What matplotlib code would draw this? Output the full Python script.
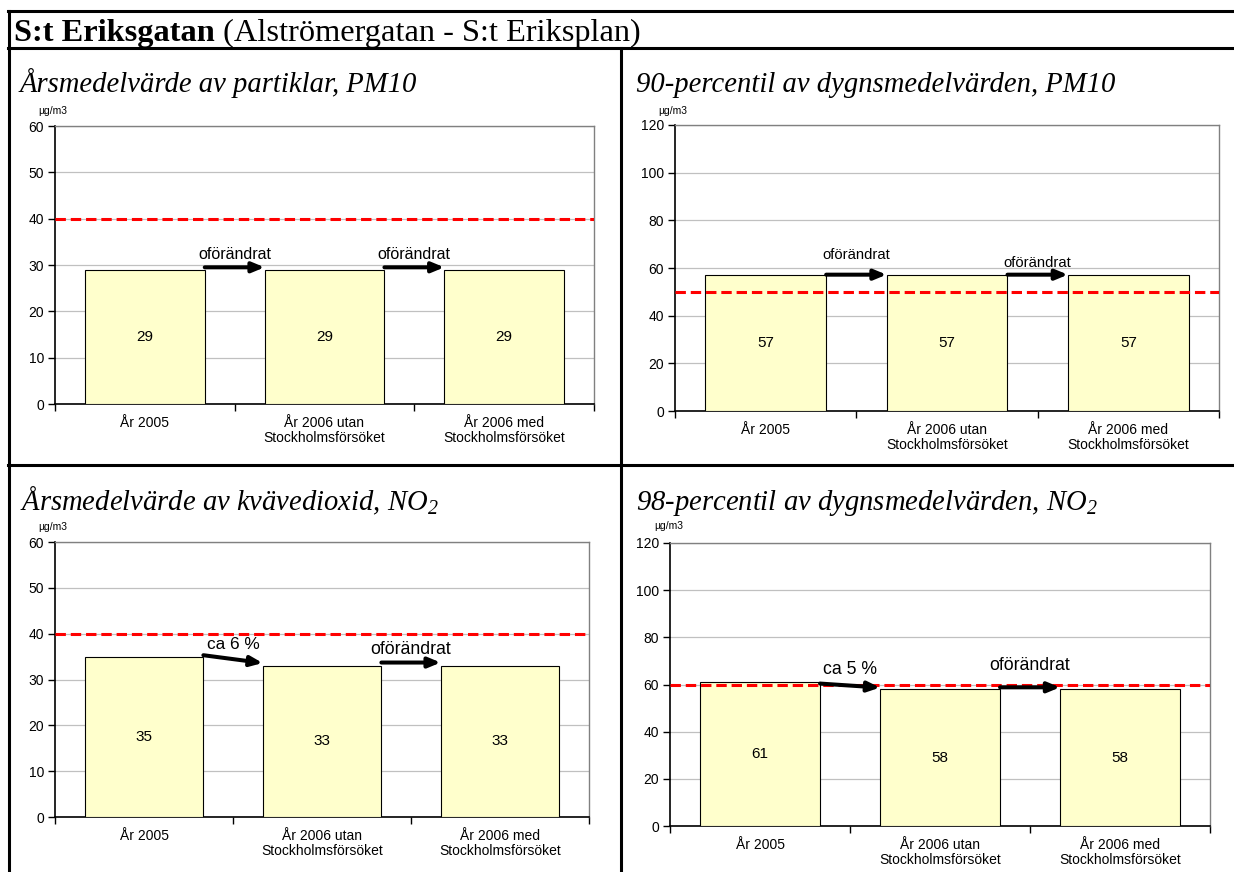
import matplotlib
matplotlib.use("Agg")
import matplotlib.pyplot as plt
from matplotlib.lines import Line2D
import numpy as np

plt.rcParams['font.family'] = ['Liberation Sans', 'DejaVu Sans']
plt.rcParams['mathtext.fontset'] = 'custom'
plt.rcParams['mathtext.rm'] = 'Liberation Serif:italic'
plt.rcParams['mathtext.it'] = 'Liberation Serif:italic'

# ---- data ----
header_bold = "S:t Eriksgatan"
header_rest = " (Alströmergatan - S:t Eriksplan)"
categories = ["År 2005", "År 2006 utan\nStockholmsförsöket", "År 2006 med\nStockholmsförsöket"]
unit = "µg/m3"

titles = ["Årsmedelvärde av partiklar, PM10",
          "90-percentil av dygnsmedelvärden, PM10",
          "Årsmedelvärde av kvävedioxid, NO$_2$",
          "98-percentil av dygnsmedelvärden, NO$_2$"]
pm10_annual = [29, 29, 29]
pm10_p90 = [57, 57, 57]
no2_annual = [35, 33, 33]
no2_p98 = [61, 58, 58]
limits = [40, 50, 40, 60]
ymaxes = [60, 120, 60, 120]
ysteps = [10, 20, 10, 20]
changes_pm10_annual = ["oförändrat", "oförändrat"]
changes_pm10_p90 = ["oförändrat", "oförändrat"]
changes_no2_annual = ["ca 6 %", "oförändrat"]
changes_no2_p98 = ["ca 5 %", "oförändrat"]

W, H = 1234, 872
fig = plt.figure(figsize=(W / 100, H / 100), dpi=100)

def fx(x):
    return x / W

def fy(y):
    return 1 - y / H

def hline(y, x0, x1, lw=2.2):
    fig.add_artist(Line2D([fx(x0), fx(x1)], [fy(y), fy(y)], color='black', lw=lw, transform=fig.transFigure))

def vline(x, y0, y1, lw=2.2):
    fig.add_artist(Line2D([fx(x), fx(x)], [fy(y0), fy(y1)], color='black', lw=lw, transform=fig.transFigure))

# frame
hline(11.5, 8, W)
hline(48.5, 8, W)
hline(465.5, 8, W)
vline(8.5, 11, H)
vline(620.5, 48, H)

# header
t1 = fig.text(fx(14), fy(41), header_bold, fontsize=23.3, fontweight='bold',
              family='Liberation Serif', va='baseline', ha='left')
fig.canvas.draw()
bb = t1.get_window_extent()
fig.text(bb.x1 / W, fy(41), header_rest, fontsize=23.3, family='Liberation Serif',
         va='baseline', ha='left')

# panels: (axes px left, right, top, bottom), title pos, unit pos
panels = [
    dict(ax=(55, 594, 126, 404), title=(20, 92), unitpos=(38, 111),
         vals=pm10_annual, changes=changes_pm10_annual, fs=(11.5, 11.5),
         arrow_dy=[(0.5, 0.5), (0.5, 0.5)], text_dy=(3.3, 3.3)),
    dict(ax=(675, 1219, 125, 411), title=(636, 92), unitpos=(658, 111),
         vals=pm10_p90, changes=changes_pm10_p90, fs=(10.6, 10.6),
         arrow_dy=[(0.2, 0.2), (0.2, 0.2)], text_dy=(8.3, 5.0)),
    dict(ax=(55, 589, 542, 817), title=(20, 510), unitpos=(38, 527),
         vals=no2_annual, changes=changes_no2_annual, fs=(12.4, 12.7),
         arrow_dy=[(0.3, 0.6), (0.7, 0.7)], text_dy=(2.6, 3.5)),
    dict(ax=(670, 1210, 543, 826), title=(636, 510), unitpos=(654, 526),
         vals=no2_p98, changes=changes_no2_p98, fs=(12.7, 12.7),
         arrow_dy=[(-0.6, 0.7), (0.8, 0.8)], text_dy=(5.3, 10)),
]

bw = 0.667
x = np.arange(len(categories))

for i, p in enumerate(panels):
    l, r, t, b = p['ax']
    ax = fig.add_axes([fx(l), fy(b), fx(r - l), (b - t) / H])
    vals = p['vals']
    ax.bar(x, vals, width=bw, color='#FFFFCC', edgecolor='black', lw=0.8, zorder=3)
    ax.set_xlim(-0.5, len(categories) - 0.5)
    ax.set_ylim(0, ymaxes[i])
    ax.set_yticks(np.arange(0, ymaxes[i] + 1, ysteps[i]))
    ax.yaxis.grid(True, color='#C0C0C0', lw=0.9, zorder=0)
    ax.set_axisbelow(True)
    ax.axhline(limits[i], color='#FF0000', lw=2.2, ls=(0, (3.4, 1.6)), zorder=4)
    ax.set_xticks([-0.5, 0.5, 1.5, 2.5])
    ax.set_xticklabels([])
    ax.tick_params(axis='x', direction='out', length=5, width=1)
    ax.tick_params(axis='y', direction='out', length=5, width=1, labelsize=10, pad=3)
    for s in ['top', 'right']:
        ax.spines[s].set_color('#808080')
        ax.spines[s].set_linewidth(1)
    for s in ['left', 'bottom']:
        ax.spines[s].set_color('black')
        ax.spines[s].set_linewidth(1.2)
    for xi, c in zip(x, categories):
        ax.annotate(c, xy=(xi, 0), xytext=(0, -8.5), textcoords='offset points',
                    ha='center', va='top', fontsize=10, linespacing=1.1)
    for xi, v in zip(x, vals):
        ax.text(xi, v / 2, str(v), ha='center', va='center', fontsize=11, zorder=5)
    for k in range(len(vals) - 1):
        x0 = k + bw / 2
        x1 = k + 1 - bw / 2
        y0 = vals[k] + p['arrow_dy'][k][0]
        y1 = vals[k + 1] + p['arrow_dy'][k][1]
        ax.annotate('', xy=(x1, y1), xytext=(x0, y0),
                    arrowprops=dict(arrowstyle='-|>,head_length=0.65,head_width=0.27',
                                    lw=2.9, color='black', shrinkA=0, shrinkB=0,
                                    mutation_scale=11),
                    zorder=6)
        ax.text((x0 + x1) / 2, vals[k] + p['text_dy'][k], p['changes'][k],
                ha='center', va='center', fontsize=p['fs'][k], zorder=6)
    fig.text(fx(p['title'][0]), fy(p['title'][1]), titles[i], fontsize=20.6,
             family='Liberation Serif', style='italic', ha='left', va='baseline')
    fig.text(fx(p['unitpos'][0]), fy(p['unitpos'][1]), unit, fontsize=7.5,
             ha='left', va='center')

fig.savefig('out.png', dpi=100)
